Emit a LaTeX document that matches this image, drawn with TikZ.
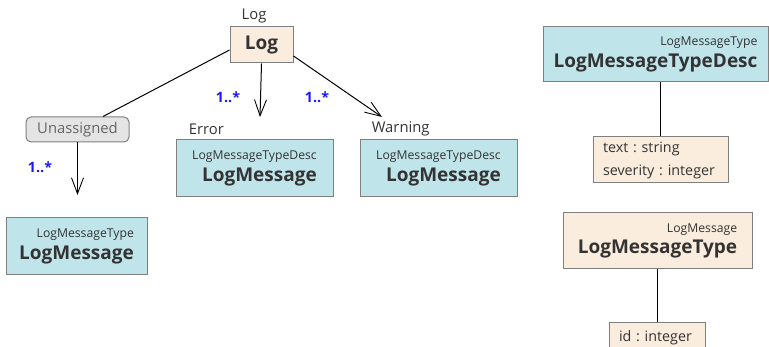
\documentclass[tikz,border=0pt]{standalone}
\usepackage{fontspec}
\setmainfont{Open Sans}
\usetikzlibrary{arrows.meta}
\definecolor{boxblue}{HTML}{BFE4EA}
\definecolor{boxtan}{HTML}{FBEDDD}
\definecolor{boxgray}{HTML}{E4E4E4}
\definecolor{edgegray}{HTML}{7F7F7F}
\definecolor{txt}{HTML}{333333}
\definecolor{multblue}{HTML}{1A1AF0}
\newcommand{\clsname}[2]{{\fontsize{12.2}{14}\selectfont #1}\\[4pt]{\fontsize{19}{22}\selectfont\bfseries #2}}
\tikzset{>={Straight Barb[length=16pt,width=12pt,line width=0.9pt]}}
\frenchspacing

\begin{document}
\begin{tikzpicture}[x=1pt, y=-1pt, line width=1pt, text=txt,
	cls/.style={draw=edgegray, inner sep=0pt, align=right},
	attr/.style={draw=edgegray, fill=boxtan, inner xsep=10pt, inner ysep=0pt, align=left, font=\fontsize{14.3}{23}\selectfont},
	mult/.style={text=multblue, font=\fontsize{14.3}{16}\selectfont\bfseries},
	role/.style={font=\fontsize{14.8}{16}\selectfont, anchor=west}]

		\useasboundingbox (0,0) rectangle (769,347);

		\node[cls, fill=boxtan, minimum width=63pt, minimum height=36pt, font=\fontsize{19}{22}\selectfont\bfseries] (L) at (261.5,45) {Log};
		\node[role, anchor=center] (Ltag) at (254,16) {Log};
		\node[draw=edgegray, fill=boxgray, rounded corners=5pt, minimum width=103pt, minimum height=25pt, inner sep=0pt, text=edgegray!80!black, font=\fontsize{14.8}{16}\selectfont] (U) at (77.5,129.5) {Unassigned};
		\node[cls, fill=boxblue, minimum width=157pt, minimum height=57pt] (E) at (254.5,168.5) {\clsname{LogMessageTypeDesc}{LogMessage}};
		\node[cls, fill=boxblue, minimum width=157pt, minimum height=57pt] (W) at (438.5,168.5) {\clsname{LogMessageTypeDesc}{LogMessage}};
		\node[cls, fill=boxblue, minimum width=141pt, minimum height=57pt] (M) at (76.5,246.5) {\clsname{LogMessageType}{LogMessage}};
		\node[role] (Etag) at (185,129) {Error};
		\node[role] (Wtag) at (368,129) {Warning};

		\coordinate (Eend) at (260,117);
		\coordinate (Wend) at (382,117);
		\coordinate (Uend) at (77.5,195);
		\draw (L.west) ++(0,5) -- ([xshift=25.5pt]U.north);
		\draw [->] (L.south) -- (Eend);
		\draw [->] ([yshift=-11pt]L.east) -- (Wend);
		\draw [->] (U.south) -- (Uend);
		\node[mult] (m1) at (228,97) {1..*};
		\node[mult] (m2) at (317,97) {1..*};
		\node[mult] (m3) at (40,167) {1..*};

		\node[cls, fill=boxblue, minimum width=225pt, minimum height=55pt] (D) at (655.5,54.5) {\clsname{LogMessageType}{LogMessageTypeDesc}};
		\node[attr, text width=115pt, minimum height=46pt] (DA) at (660.5,160) {text : string\\severity : integer};
		\node[attr, text width=76pt, minimum height=30pt] (TA) at (657,338) {id : integer};
		\node[cls, fill=boxtan, minimum width=189pt, minimum height=56pt] (T) at (657.5,241) {\clsname{LogMessage}{LogMessageType}};
		\draw (DA.north) -- (DA.north |- D.south);
		\draw (TA.north) -- (TA.north |- T.south);

		\end{tikzpicture}
\end{document}
